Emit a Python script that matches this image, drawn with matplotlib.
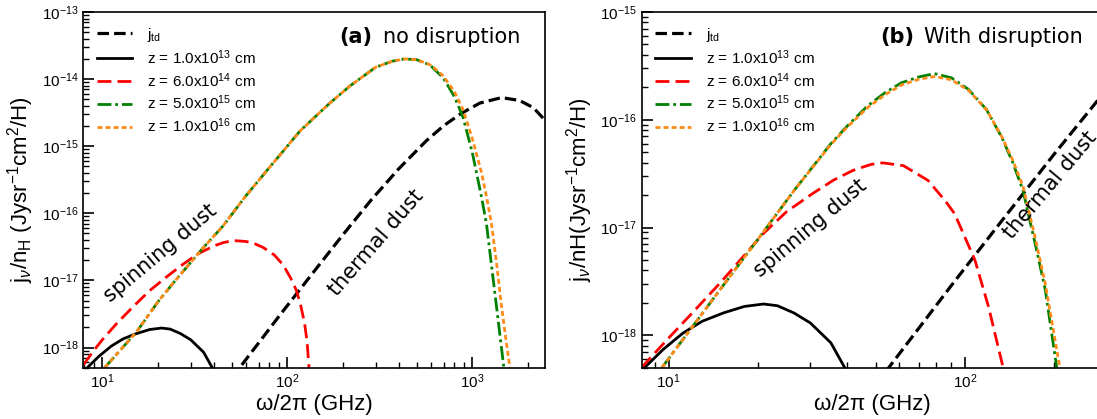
import numpy as np
import matplotlib
matplotlib.use("Agg")
import matplotlib.pyplot as plt
from matplotlib.ticker import LogLocator, NullFormatter

plt.rcParams['mathtext.fontset'] = 'custom'
plt.rcParams['mathtext.rm'] = 'Liberation Sans'
plt.rcParams['mathtext.it'] = 'Liberation Sans:italic'
plt.rcParams['mathtext.bf'] = 'Liberation Sans:bold'
plt.rcParams['font.family'] = ['Liberation Sans', 'DejaVu Sans']

# thermal dust emission (same in both panels)
td_freq = [50, 55.3, 70, 90, 105, 132, 160, 200, 285, 316, 400, 565, 700, 874,
           1100, 1440, 1800, 2134, 2600]
td_j = [3.5e-19, 5e-19, 1.17e-18, 2.9e-18, 5e-18, 1.12e-17, 2.2e-17, 4.8e-17,
        1.6e-16, 2.2e-16, 4.6e-16, 1.21e-15, 2.02e-15, 3.1e-15, 4.4e-15, 5.3e-15,
        4.8e-15, 3.76e-15, 2.1e-15]

# z = 1e13 cm (same in both panels)
z13_freq = [8.3, 9.6, 11.2, 13, 15.3, 18, 20.9, 23.3, 26.5, 30.1, 35.3, 39.3]
z13_j = [5e-19, 7.4e-19, 1.05e-18, 1.35e-18, 1.61e-18, 1.85e-18, 1.95e-18,
         1.88e-18, 1.61e-18, 1.30e-18, 8.5e-19, 5e-19]

# panel (a): no disruption
a_z14_freq = [7.9, 9, 10, 12, 15, 18, 22, 27, 33, 40, 45, 51, 60, 67, 74, 85,
              95, 104, 112, 118, 124, 128, 131]
a_z14_j = [5.5e-19, 9e-19, 1.3e-18, 2.3e-18, 4.3e-18, 7e-18, 1.1e-17,
           1.7e-17, 2.5e-17, 3.25e-17, 3.65e-17, 3.93e-17, 3.8e-17, 3.5e-17,
           3.1e-17, 2.4e-17, 1.7e-17, 1.1e-17, 7.1e-18, 4.3e-18, 2.3e-18,
           1.2e-18, 5e-19]

a_z15_freq = [10.3, 15.3, 20, 25, 34.9, 45, 60, 80, 100, 117, 132, 170, 218,
              300, 370, 431, 500, 565, 600, 695, 800, 891, 1000, 1122, 1193,
              1270, 1352, 1420, 1480]
a_z15_j = [5e-19, 1.7e-18, 4.8e-18, 1.02e-17, 3.0e-17, 6.5e-17, 1.85e-16,
           4.8e-16, 1.0e-15, 1.68e-15, 2.3e-15, 4.4e-15, 7.9e-15, 1.5e-14,
           1.85e-14, 2.0e-14, 1.95e-14, 1.7e-14, 1.55e-14, 1.05e-14, 5.5e-15,
           2.7e-15, 8e-16, 1.73e-16, 6.9e-17, 1.66e-17, 4e-18, 1.3e-18, 5e-19]

a_z16_freq = [10.3, 15.3, 20, 25, 34.9, 45, 60, 80, 100, 117, 132, 170, 218,
              300, 370, 431, 500, 565, 600, 695, 800, 891, 1000, 1122, 1195,
              1270, 1352, 1440, 1520, 1596]
a_z16_j = [5e-19, 1.7e-18, 4.8e-18, 1.02e-17, 3.0e-17, 6.5e-17, 1.85e-16,
           4.8e-16, 1.0e-15, 1.68e-15, 2.3e-15, 4.4e-15, 7.9e-15, 1.5e-14,
           1.85e-14, 2.0e-14, 1.95e-14, 1.72e-14, 1.6e-14, 1.12e-14, 6.5e-15,
           3.5e-15, 1.3e-15, 4e-16, 1.73e-16, 6.9e-17, 1.8e-17, 4e-18, 1.3e-18,
           5e-19]

# panel (b): with disruption
b_z14_freq = [8.1, 10, 12, 15, 20.9, 25, 30.5, 36, 42, 48.2, 52.8, 62, 75, 85.5,
              92.2, 100, 108, 120, 134.5]
b_z14_j = [5e-19, 9.4e-19, 1.6e-18, 3.1e-18, 8.8e-18, 1.4e-17, 2.05e-17,
           2.75e-17, 3.4e-17, 3.85e-17, 3.98e-17, 3.75e-17, 2.74e-17, 1.79e-17,
           1.35e-17, 8.1e-18, 5e-18, 1.85e-18, 5e-19]

b_z15_freq = [9.5, 11.2, 15, 20.9, 26.5, 35.3, 40, 47, 54, 61, 70, 79, 90,
              102.6, 118, 133, 145, 157, 165, 172.5, 186.6, 204]
b_z15_j = [5e-19, 9.2e-19, 2.7e-18, 9.1e-18, 2.2e-17, 6.0e-17, 8.7e-17,
           1.35e-16, 1.8e-16, 2.2e-16, 2.5e-16, 2.68e-16, 2.45e-16, 1.92e-16,
           1.25e-16, 6.9e-17, 4e-17, 2.2e-17, 1.2e-17, 7.1e-18, 2.64e-18, 5e-19]

b_z16_freq = [9.5, 11.2, 15, 20.9, 26.5, 35.3, 40, 47, 54, 61, 70, 79, 90,
              102.6, 118, 133, 145, 157, 165, 172.5, 186.6, 209]
b_z16_j = [5e-19, 9.2e-19, 2.7e-18, 9.1e-18, 2.2e-17, 5.9e-17, 8.5e-17,
           1.3e-16, 1.72e-16, 2.1e-16, 2.38e-16, 2.52e-16, 2.35e-16, 1.88e-16,
           1.25e-16, 7.0e-17, 4.2e-17, 2.4e-17, 1.35e-17, 8.0e-18, 3.0e-18, 5e-19]

labels = [r'j$_{\rm td}$', r'z = 1.0x10$^{13}$ cm', r'z = 6.0x10$^{14}$ cm',
          r'z = 5.0x10$^{15}$ cm', r'z = 1.0x10$^{16}$ cm']

W, H = 1097, 419
fig = plt.figure(figsize=(W / 100, H / 100), dpi=100)
ax1 = fig.add_axes([83.3 / W, 51.3 / H, 461.7 / W, 355.7 / H])
ax2 = fig.add_axes([641.7 / W, 51.3 / H, 460.8 / W, 355.7 / H])


def draw(ax, z14, z15, z16):
    ax.plot(td_freq, td_j, color='black', lw=2.3, dashes=(3.6, 1.6), label=labels[0])
    ax.plot(z13_freq, z13_j, color='black', lw=2.0, label=labels[1])
    ax.plot(*z14, color='red', lw=2.0, dashes=(5, 2.2), label=labels[2])
    ax.plot(*z15, color='green', lw=2.0, dashes=(5, 1.4, 1, 1.4), label=labels[3])
    ax.plot(*z16, color='#ff8c1a', lw=2.0, dashes=(1.8, 1.1), label=labels[4])
    ax.set_xscale('log')
    ax.set_yscale('log')
    ax.yaxis.set_major_locator(LogLocator(base=10, numticks=20))
    ax.yaxis.set_minor_locator(LogLocator(base=10, subs=np.arange(2, 10), numticks=20))
    ax.xaxis.set_minor_formatter(NullFormatter())
    ax.yaxis.set_minor_formatter(NullFormatter())
    ax.tick_params(which='both', direction='in', top=False, right=False)
    ax.tick_params(which='major', length=8, width=1.2, labelsize=11)
    ax.tick_params(which='minor', length=4.5, width=1.0)
    for s in ax.spines.values():
        s.set_linewidth(1.2)
    ax.set_xlabel('ω/2π (GHz)', fontsize=16, labelpad=2)
    ax.legend(loc='upper left', frameon=False, fontsize=11, handlelength=2.3,
              handletextpad=1.0, labelspacing=0.28)


draw(ax1, (a_z14_freq, a_z14_j), (a_z15_freq, a_z15_j), (a_z16_freq, a_z16_j))
draw(ax2, (b_z14_freq, b_z14_j), (b_z15_freq, b_z15_j), (b_z16_freq, b_z16_j))

ax1.set_xlim(7.9, 2470)
ax1.set_ylim(5e-19, 1e-13)
ax2.set_xlim(8.12, 291)
ax2.set_ylim(5e-19, 1e-15)

ax1.set_ylabel(r'j$_{\nu}$/n$_{\rm H}$ (Jysr$^{-1}$cm$^2$/H)', fontsize=16, labelpad=4)
ax2.set_ylabel(r'j$_{\nu}$/nH(Jysr$^{-1}$cm$^2$/H)', fontsize=16, labelpad=4)

tkw = dict(fontsize=15, family='DejaVu Sans', ha='center', va='center',
           rotation_mode='anchor')
ax1.text(0.168, 0.322, 'spinning dust', rotation=40, transform=ax1.transAxes, **tkw)
ax1.text(0.634, 0.351, 'thermal dust', rotation=49, transform=ax1.transAxes, **tkw)
ax2.text(0.367, 0.393, 'spinning dust', rotation=40, transform=ax2.transAxes, **tkw)
ax2.text(0.886, 0.513, 'thermal dust', rotation=50, transform=ax2.transAxes, **tkw)

renderer = fig.canvas.get_renderer()
for ax, tag, name, xr in [(ax1, '(a)', 'no disruption', 0.946),
                          (ax2, '(b)', 'With disruption', 0.958)]:
    t = ax.text(xr, 0.913, name, fontsize=15, family='DejaVu Sans', ha='right',
                va='baseline', transform=ax.transAxes)
    bb = t.get_window_extent(renderer)
    xa, _ = ax.transAxes.inverted().transform((bb.x0 - 10, bb.y0))
    ax.text(xa, 0.913, tag, fontsize=15, family='DejaVu Sans', weight='bold',
            ha='right', va='baseline', transform=ax.transAxes)

fig.savefig('out.png', dpi=100)
